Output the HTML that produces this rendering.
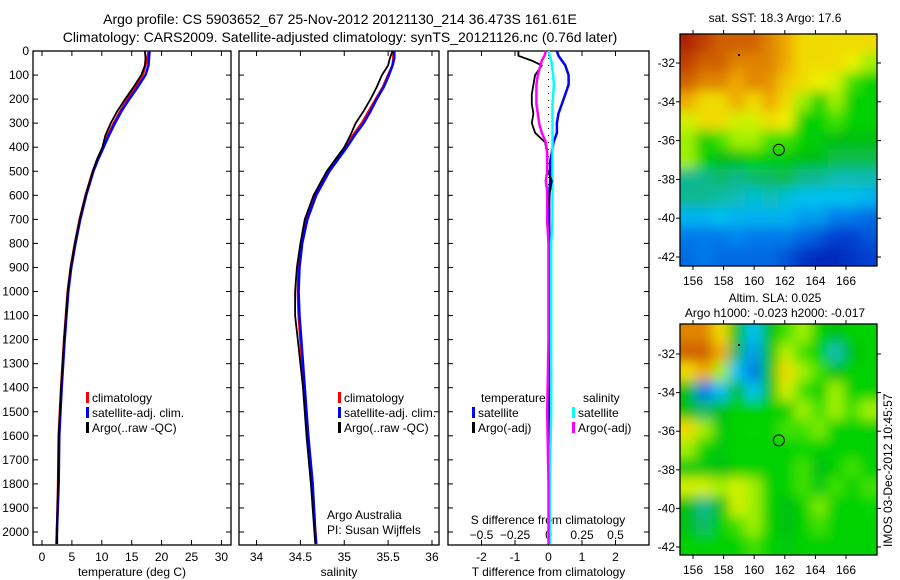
<!DOCTYPE html>
<html><head><meta charset="utf-8"><style>
body{margin:0;background:#fff;}
svg{display:block;font-family:"Liberation Sans",sans-serif;}
</style></head><body>
<svg id="fig" width="900" height="580" viewBox="0 0 900 580">
<defs>
<filter id="blur" filterUnits="userSpaceOnUse" x="600" y="0" width="300" height="580"><feGaussianBlur stdDeviation="6"/></filter>
<clipPath id="clipm1"><rect x="680" y="34" width="197" height="232"/></clipPath>
<clipPath id="clipm2"><rect x="680" y="324" width="197" height="231"/></clipPath>
</defs>
<text x="340" y="24" font-size="14" text-anchor="middle">Argo profile: CS 5903652_67 25-Nov-2012 20121130_214 36.473S 161.61E</text>
<text x="340" y="42" font-size="14" text-anchor="middle">Climatology: CARS2009. Satellite-adjusted climatology: synTS_20121126.nc (0.76d later)</text>
<g id="g"></g>
</svg>
<script>
// ---- data ----
const depths = [0,30,60,100,150,200,250,300,350,400,450,500,600,700,800,900,1000,1100,1200,1400,1600,1800,2000,2050];
const tempClim = [17.8,17.6,17.3,16.8,15.6,14.3,13.1,12.0,11.0,10.2,9.3,8.5,7.3,6.3,5.5,4.8,4.3,4.0,3.7,3.2,2.8,2.7,2.5,2.4];
const tempSat  = [18.0,17.9,17.8,17.3,16.0,14.6,13.3,12.2,11.2,10.3,9.4,8.6,7.4,6.4,5.6,4.9,4.4,4.1,3.8,3.3,2.9,2.8,2.5,2.5];
const tempArgo = [17.2,17.3,17.2,16.6,15.3,13.9,12.6,11.5,10.6,10.1,9.2,8.5,7.3,6.3,5.5,4.8,4.3,4.0,3.7,3.2,2.8,2.7,2.5,2.5];
const salClim = [35.56,35.56,35.55,35.5,35.44,35.36,35.28,35.2,35.1,35.02,34.92,34.82,34.67,34.57,34.51,34.48,34.47,34.48,34.5,34.54,34.58,34.63,34.67,34.68];
const salSat  = [35.57,35.57,35.55,35.51,35.45,35.37,35.3,35.22,35.12,35.03,34.93,34.83,34.68,34.58,34.52,34.49,34.48,34.49,34.51,34.55,34.59,34.64,34.67,34.68];
const salArgo = [35.55,35.52,35.5,35.43,35.37,35.3,35.22,35.13,35.07,35.0,34.9,34.8,34.65,34.55,34.5,34.46,34.44,34.44,34.47,34.53,34.57,34.62,34.66,34.67];
const dDepths = [0,20,40,60,80,100,140,180,220,260,300,340,380,420,460,500,540,580,620,700,800,1000,1200,1500,1800,2050];
const dTsat  = [0.25,0.3,0.4,0.5,0.55,0.6,0.6,0.5,0.4,0.3,0.25,0.25,0.15,0.1,0.05,0.05,0.05,0.03,0.02,0.02,0.02,0.02,0.03,0.02,0.02,0.02];
const dTargo = [-0.9,-0.9,-0.5,-0.2,-0.3,-0.4,-0.45,-0.5,-0.5,-0.45,-0.5,-0.4,-0.1,-0.05,-0.05,-0.02,0.1,0.05,0.0,-0.05,0.0,0.0,0.0,-0.02,0.0,0.0];
const dSsat  = [0.0,0.01,0.02,0.025,0.03,0.035,0.04,0.035,0.03,0.03,0.03,0.03,0.03,0.03,0.03,0.03,0.03,0.03,0.03,0.03,0.02,0.02,0.02,0.02,0.01,0.01];
const dSargo = [-0.02,-0.03,-0.05,-0.06,-0.07,-0.08,-0.09,-0.09,-0.09,-0.08,-0.07,-0.05,-0.02,-0.01,-0.01,-0.01,-0.02,-0.01,-0.01,-0.01,0,0,0,-0.01,0,0];
const depthTicks = [0,100,200,300,400,500,600,700,800,900,1000,1100,1200,1300,1400,1500,1600,1700,1800,1900,2000];
const tempTicks = [0,5,10,15,20,25,30];
const salTicks = [34,34.5,35,35.5,36];
const dTTicks = [-2,-1,0,1,2];
const dSTicks = [-0.5,-0.25,0,0.25,0.5];
const lonTicks = [156,158,160,162,164,166];
const latTicks = [-32,-34,-36,-38,-40,-42];
const sstGrid = [
[.95,.9,.85,.85,.85,.8,.75,.7,.7,.7,.7,.7],
[.9,.85,.85,.8,.8,.8,.75,.7,.7,.7,.68,.6],
[.85,.8,.8,.75,.8,.78,.72,.7,.68,.65,.55,.5],
[.75,.7,.7,.75,.7,.75,.7,.6,.5,.6,.5,.5],
[.65,.7,.7,.65,.65,.7,.68,.5,.5,.55,.5,.5],
[.6,.5,.55,.6,.6,.55,.55,.5,.48,.45,.45,.45],
[.6,.5,.45,.45,.5,.48,.48,.45,.45,.42,.42,.42],
[.38,.38,.4,.38,.4,.4,.42,.38,.38,.35,.35,.35],
[.38,.38,.36,.35,.32,.35,.32,.3,.3,.3,.3,.28],
[.28,.28,.3,.28,.28,.28,.28,.25,.25,.2,.2,.18],
[.2,.2,.2,.22,.2,.2,.2,.18,.15,.12,.12,.15],
[.18,.2,.18,.18,.18,.18,.15,.1,.08,.08,.1,.12]];
const slaGrid = [
[.8,.8,.7,.45,.3,.45,.55,.6,.5,.45,.5,.5],
[.85,.85,.75,.4,.25,.45,.62,.55,.5,.35,.45,.5],
[.7,.75,.6,.3,.2,.45,.7,.6,.55,.45,.5,.5],
[.45,.2,.3,.45,.3,.45,.65,.55,.5,.6,.5,.5],
[.45,.4,.45,.5,.5,.5,.5,.6,.55,.6,.55,.6],
[.7,.6,.48,.5,.52,.5,.55,.55,.58,.5,.5,.5],
[.6,.5,.48,.5,.5,.5,.5,.52,.5,.5,.5,.5],
[.48,.48,.45,.5,.5,.5,.5,.55,.45,.5,.55,.5],
[.65,.65,.6,.65,.6,.5,.5,.55,.48,.55,.5,.55],
[.45,.38,.45,.65,.6,.5,.45,.5,.58,.5,.5,.52],
[.45,.4,.5,.55,.6,.5,.45,.5,.55,.5,.5,.5],
[.5,.5,.5,.5,.55,.5,.48,.5,.5,.5,.5,.5]];
const floatLon = 161.61, floatLat = -36.473;

// ---- helpers ----
const NS='http://www.w3.org/2000/svg';
const G=document.getElementById('g');
function mk(tag,attrs,parent){const e=document.createElementNS(NS,tag);for(const k in attrs)e.setAttribute(k,attrs[k]);(parent||G).appendChild(e);return e;}
function txt(x,y,s,anchor,size,parent){const t=mk('text',{x:x,y:y,'font-size':size||12,'text-anchor':anchor||'start'},parent);t.textContent=s;return t;}

const TOP=51, BOT=545;
const yD = d => TOP + d*0.2405;

function panel(name,x0,x1,xmin,xmax,ticks,fmt,label){
  const xs = v => x0 + (v-xmin)/(xmax-xmin)*(x1-x0);
  const r=mk('rect',{x:x0,y:TOP,width:x1-x0,height:BOT-TOP,fill:'none',stroke:'#000','stroke-width':1.3});
  
  
  depthTicks.forEach(d=>{mk('line',{x1:x0,x2:x0+5,y1:yD(d),y2:yD(d),stroke:'#000'});mk('line',{x1:x1,x2:x1-5,y1:yD(d),y2:yD(d),stroke:'#000'});});
  if(ticks){ticks.forEach(v=>{const x=xs(v);mk('line',{x1:x,x2:x,y1:BOT,y2:BOT-5,stroke:'#000'});mk('line',{x1:x,x2:x,y1:TOP,y2:TOP+5,stroke:'#000'});
    const t=txt(x,561,fmt(v),'middle',12);});}
  const l=txt((x0+x1)/2,576,label,'middle',12);
  
  
  return xs;
}
function profile(xs,ds,vals,color,w,name){
  const pts=ds.map((d,i)=>xs(vals[i]).toFixed(1)+','+yD(d).toFixed(1)).join(' ');
  const p=mk('polyline',{points:pts,fill:'none',stroke:color,'stroke-width':w||2.5,'stroke-linejoin':'round'});
  
  
}
function legendEntry(x,y,color,label,name){
  mk('rect',{x:x,y:y-10,width:3,height:11,fill:color});
  const t=txt(x+6,y,label,'start',12);
  
  
}

// depth labels
depthTicks.forEach(d=>{const t=txt(29,yD(d)+4,String(d),'end',12);});

// panel 1
const xT=panel('temperature-panel',33,231,-1.5,31.6,tempTicks,v=>String(v),'temperature (deg C)');
profile(xT,depths,tempClim,'#ff0000',2.5,'temp-climatology-line');
profile(xT,depths,tempSat,'#0000ff',2.5,'temp-satellite-line');
profile(xT,depths,tempArgo,'#000000',1.8,'temp-argo-line');
legendEntry(86,402,'#ff0000','climatology','legend-climatology');
legendEntry(86,417,'#0000ff','satellite-adj. clim.','legend-satellite');
legendEntry(86,432,'#000000','Argo(..raw -QC)','legend-argo');

// panel 2
const xS=panel('salinity-panel',239,439,33.8,36.08,salTicks,v=>String(v),'salinity');
profile(xS,depths,salClim,'#ff0000',2.5,'sal-climatology-line');
profile(xS,depths,salSat,'#0000ff',2.5,'sal-satellite-line');
profile(xS,depths,salArgo,'#000000',1.8,'sal-argo-line');
legendEntry(338,402,'#ff0000','climatology','legend-climatology-2');
legendEntry(338,417,'#0000ff','satellite-adj. clim.','legend-satellite-2');
legendEntry(338,432,'#000000','Argo(..raw -QC)','legend-argo-2');
txt(327,519,'Argo Australia','start',12);
txt(327,534,'PI: Susan Wijffels','start',12);

// panel 3
const xDT=panel('difference-panel',448,649,-3,3,dTTicks,v=>String(v),'T difference from climatology');
const xDS=v=>xDT(v*4);
dSTicks.forEach(v=>{const t=txt(xDS(v),539,String(v).replace('-','−'),'middle',12);});
txt(548,524,'S difference from climatology','middle',12);
mk('line',{x1:xDT(0),x2:xDT(0),y1:TOP,y2:200,stroke:'#000','stroke-dasharray':'1,6'});
profile(xDT,dDepths,dTsat,'#0000ff',2.5,'dT-satellite-line');
profile(xDS,dDepths,dSsat,'#00ffff',2.5,'dS-satellite-line');
profile(xDT,dDepths,dTargo,'#000000',1.8,'dT-argo-line');
profile(xDS,dDepths,dSargo,'#ff00ff',2.5,'dS-argo-line');
txt(481,402,'temperature','start',12);
txt(583,402,'salinity','start',12);
legendEntry(472,417,'#0000ff','satellite','legend-dT-satellite');
legendEntry(472,432,'#000000','Argo(-adj)','legend-dT-argo');
legendEntry(572,417,'#00ffff','satellite','legend-dS-satellite');
legendEntry(572,432,'#ff00ff','Argo(-adj)','legend-dS-argo');

// maps
const cstops=[[0,'#000090'],[.12,'#0040d0'],[.22,'#0088f0'],[.3,'#00c0f0'],[.38,'#10b890'],[.45,'#00c010'],[.52,'#00d800'],[.6,'#a0f000'],[.68,'#f0f000'],[.75,'#f0a800'],[.85,'#d06000'],[.95,'#b02000'],[1,'#a00000']];
function hex(h){return [1,3,5].map(i=>parseInt(h.substr(i,2),16));}
function cmap(v){for(let i=1;i<cstops.length;i++){if(v<=cstops[i][0]){const a=cstops[i-1],b=cstops[i];const f=(v-a[0])/(b[0]-a[0]);const ca=hex(a[1]),cb=hex(b[1]);return 'rgb('+ca.map((c,k)=>Math.round(c+(cb[k]-c)*f)).join(',')+')';}}return cstops[cstops.length-1][1];}
function map(name,grid,x0,y0,w,h,clip,lat32y,lat42y,titles,titleY){
  const gg=mk('g',{'clip-path':'url(#'+clip+')'});
  
  
  const inner=mk('g',{filter:'url(#blur)'},gg);
  const rows=grid.length, cols=grid[0].length, cw=w/cols, ch=h/rows;
  grid.forEach((row,r)=>row.forEach((v,c)=>{
    let x=x0+c*cw, y=y0+r*ch, ww=cw, hh=ch;
    if(c===0){x-=12;ww+=12;} if(c===cols-1){ww+=12;}
    if(r===0){y-=12;hh+=12;} if(r===rows-1){hh+=12;}
    mk('rect',{x:x-0.5,y:y-0.5,width:ww+1,height:hh+1,fill:cmap(v)},inner);}));
  const fr=mk('rect',{x:x0,y:y0,width:w,height:h,fill:'none',stroke:'#000','stroke-width':1.3});
  
  
  const lonX=l=>693+(l-156)*15.3;
  const latY=l=>lat32y+(-32-l)*(lat42y-lat32y)/10;
  lonTicks.forEach(l=>{mk('line',{x1:lonX(l),x2:lonX(l),y1:y0+h,y2:y0+h+4,stroke:'#000'});mk('line',{x1:lonX(l),x2:lonX(l),y1:y0,y2:y0-4,stroke:'#000'});
    const t=txt(lonX(l),y0+h+19,String(l),'middle',12);});
  latTicks.forEach(l=>{mk('line',{x1:x0,x2:x0-4,y1:latY(l),y2:latY(l),stroke:'#000'});mk('line',{x1:x0+w,x2:x0+w+4,y1:latY(l),y2:latY(l),stroke:'#000'});
    const t=txt(x0-5,latY(l)+4,String(l),'end',12);});
  const c=mk('circle',{cx:lonX(floatLon),cy:latY(floatLat),r:5.5,fill:'none',stroke:'#000','stroke-width':1});
  
  
  mk('rect',{x:738,y:y0+20,width:2,height:2,fill:'#000'});
  titles.forEach((s,i)=>{const t=txt(775,titleY+i*15,s,'middle',12);});
}
map('sst-map',sstGrid,680,34,197,232,'clipm1',63,257,['sat. SST: 18.3 Argo: 17.6'],22);
map('sla-map',slaGrid,680,324,197,231,'clipm2',354,547,['Altim. SLA: 0.025','Argo h1000: -0.023 h2000: -0.017'],302);
const imos=txt(0,0,'IMOS 03-Dec-2012 10:45:57','start',12);
imos.setAttribute('transform','translate(892,547) rotate(-90)');


</script>
</body></html>
